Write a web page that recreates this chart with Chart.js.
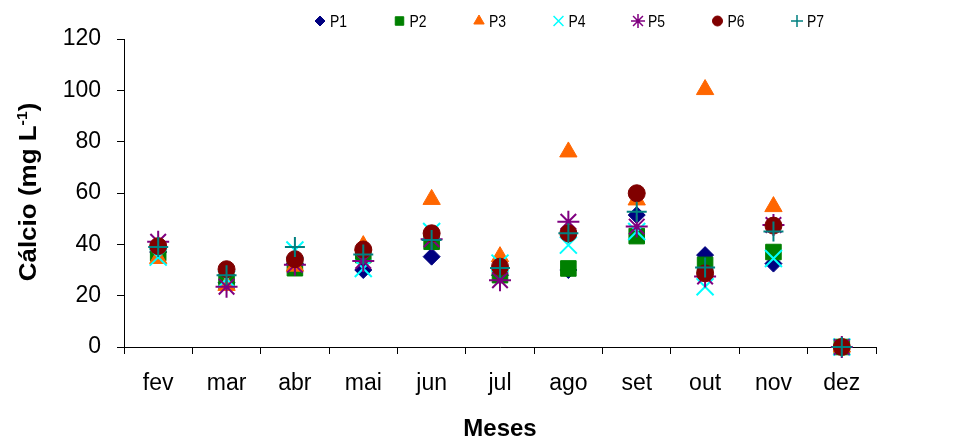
<!DOCTYPE html>
<html>
<head>
<meta charset="utf-8">
<script src="https://cdn.jsdelivr.net/npm/chart.js@4"></script>
<style>
  html, body { margin: 0; padding: 0; background: #fff; }
  #wrap { width: 964px; height: 440px; }
</style>
</head>
<body>
<div id="wrap"><canvas id="myChart" width="964" height="440"></canvas></div>
<script>
// dados (Cálcio, mg/L)
const meses = ["fev", "mar", "abr", "mai", "jun", "jul", "ago", "set", "out", "nov", "dez"];
const p1 = [37, 25, 32.5, 30, 35.2, 28, 30, 51.4, 35.8, 32.5, 0];
const p2 = [36.6, 25.5, 30.7, 35.8, 41, 28, 30.6, 43.2, 32, 37, 0];
const p3 = [34.5, 24, 31.5, 39.5, 57.5, 35.2, 76, 57.3, 100.3, 54.7, 0];
const p4 = [35, 26.5, 37.8, 30.6, 45, 32.7, 39.7, 45, 23.5, 34.5, 0];
const p5 = [41, 23.5, 32, 33.5, 42, 26, 48.8, 46.9, 27.5, 47.5, 0];
const p6 = [39.3, 30.3, 34.2, 38, 44.3, 31.3, 44.3, 59.9, 28.7, 47.3, 0];
const p7 = [39, 28, 39, 36, 41.7, 30.8, 44.3, 52.7, 31, 45, 0];
const yTicks = [0, 20, 40, 60, 80, 100, 120];

// estilo de cada ponto
const series = [
  { label: "P1", data: p1, color: "#000080", style: "rectRot", r: 8.5, lr: 5, bw: 1 },
  { label: "P2", data: p2, color: "#008000", style: "rect", r: 11, lr: 6, bw: 1 },
  { label: "P3", data: p3, color: "#FF6600", style: "triangle", r: 10, lr: 6, bw: 1 },
  { label: "P4", data: p4, color: "#00FFFF", style: "crossRot", r: 12, lr: 7, bw: 2 },
  { label: "P5", data: p5, color: "#800080", style: "star", r: 11, lr: 7, bw: 2 },
  { label: "P6", data: p6, color: "#800000", style: "circle", r: 8.5, lr: 5, bw: 1 },
  { label: "P7", data: p7, color: "#008080", style: "cross", r: 10, lr: 6, bw: 2 },
];

const datasets = series.map((s, i) => ({
  label: s.label,
  data: s.data,
  showLine: false,
  pointStyle: s.style,
  pointRadius: s.r,
  pointHoverRadius: s.r,
  pointBackgroundColor: s.color,
  pointBorderColor: s.color,
  pointBorderWidth: s.bw,
  borderColor: s.color,
  backgroundColor: s.color,
  order: series.length - i, // P7 fica por cima
  clip: false,
}));

// legenda desenhada à mão (posições como no original)
const legendPlugin = {
  id: "legendaTopo",
  afterDraw(chart) {
    const ctx = chart.ctx;
    ctx.save();
    series.forEach((s, i) => {
      const x = 320 + i * 79.5;
      const y = 21;
      ctx.fillStyle = s.color;
      ctx.strokeStyle = s.color;
      ctx.lineWidth = s.bw === 2 ? 1.5 : 1;
      Chart.helpers.drawPoint(ctx, { pointStyle: s.style, radius: s.lr, rotation: 0, borderWidth: ctx.lineWidth }, x, y);
      ctx.fillStyle = "#000";
      ctx.font = "17px Arial, 'Liberation Sans'";
      ctx.textBaseline = "middle";
      ctx.textAlign = "left";
      ctx.save();
      ctx.translate(x + 10, y + 1);
      ctx.scale(0.82, 1);
      ctx.fillText(s.label, 0, 0);
      ctx.restore();
    });
    ctx.restore();
  },
};

// título do eixo y com o expoente
const yTitlePlugin = {
  id: "tituloY",
  afterDraw(chart) {
    const ctx = chart.ctx;
    const big = "bold 23px Arial, 'Liberation Sans'";
    const small = "bold 14px Arial, 'Liberation Sans'";
    const parts = [["Cálcio (mg L", big, 0], ["-1", small, -9], [")", big, 0]];
    ctx.save();
    let w = 0;
    parts.forEach((p) => { ctx.font = p[1]; w += ctx.measureText(p[0]).width; });
    ctx.translate(28, 192);
    ctx.rotate(-Math.PI / 2);
    ctx.scale(1.13, 1);
    ctx.fillStyle = "#000";
    ctx.textBaseline = "alphabetic";
    ctx.textAlign = "left";
    let x = -w / 2;
    parts.forEach((p) => {
      ctx.font = p[1];
      ctx.fillText(p[0], x, 8 + p[2]);
      x += ctx.measureText(p[0]).width;
    });
    ctx.restore();
  },
};

const config = {
  type: "line",
  data: { labels: meses, datasets: datasets },
  options: {
    responsive: false,
    animation: false,
    layout: { padding: { top: 39, right: 88, bottom: 0, left: 0 } },
    plugins: {
      legend: { display: false },
      tooltip: { enabled: false },
    },
    scales: {
      x: {
        type: "category",
        offset: true,
        grid: { offset: true, drawOnChartArea: false, tickLength: 7, color: "#000", lineWidth: 1 },
        border: { color: "#000", width: 1 },
        ticks: { color: "#000", font: { family: "Arial, 'Liberation Sans'", size: 23 }, padding: 16, maxRotation: 0 },
        title: {
          display: true,
          text: "Meses",
          color: "#000",
          font: { family: "Arial, 'Liberation Sans'", size: 24, weight: "bold", lineHeight: 1 },
          padding: { top: 0, bottom: -1 },
        },
        afterFit(scale) { scale.height = 93; },
      },
      y: {
        min: 0,
        max: 120,
        afterBuildTicks(scale) { scale.ticks = yTicks.map((v) => ({ value: v })); },
        grid: { drawOnChartArea: false, tickLength: 7, color: "#000", lineWidth: 1 },
        border: { color: "#000", width: 1 },
        ticks: { color: "#000", font: { family: "Arial, 'Liberation Sans'", size: 23 }, padding: 16 },
        afterFit(scale) { scale.width = 124; },
      },
    },
  },
  plugins: [legendPlugin, yTitlePlugin],
};

const myChart = new Chart(document.getElementById("myChart"), config);
</script>
</body>
</html>
